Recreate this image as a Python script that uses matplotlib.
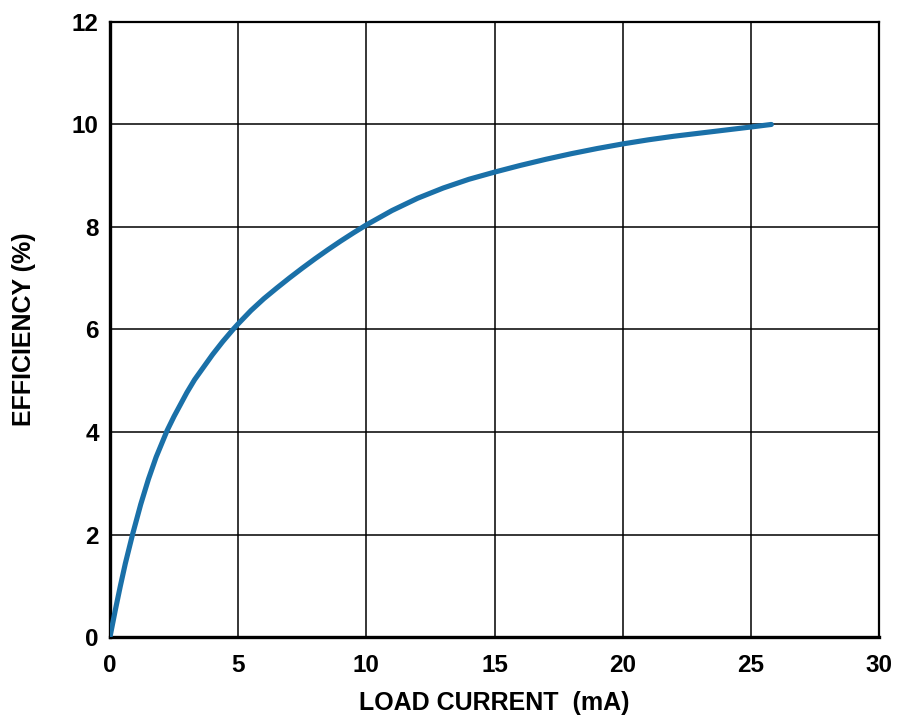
import matplotlib
matplotlib.use('Agg')
import matplotlib.pyplot as plt

# load current (mA) vs efficiency (%)
load_ma = [0.0, 0.2, 0.4, 0.6, 0.88, 1.2, 1.5, 1.8, 2.23, 2.5, 3.0, 3.3, 4.0,
           4.4, 4.8, 5.0, 5.5, 6.0, 6.5, 7.0, 7.5, 8.0, 8.5, 9.0, 9.5, 10.0,
           11.0, 12.0, 13.0, 14.0, 15.0, 16.0, 17.0, 18.0, 19.0, 20.0, 21.0,
           22.0, 23.0, 24.0, 25.0, 25.8]
eff_pct = [0.0, 0.506, 0.985, 1.437, 2.0, 2.59, 3.08, 3.51, 4.03, 4.305, 4.77, 5.02, 5.51,
           5.765, 6.0, 6.11, 6.37, 6.6, 6.806, 7.005, 7.196, 7.38, 7.556, 7.725, 7.886, 8.04,
           8.32, 8.56, 8.76, 8.93, 9.07, 9.2, 9.32, 9.43, 9.53, 9.62, 9.7,
           9.77, 9.83, 9.89, 9.95, 10.0]

xticks = [0, 5, 10, 15, 20, 25, 30]
yticks = [0, 2, 4, 6, 8, 10, 12]

plt.rcParams['font.family'] = ['Liberation Sans', 'DejaVu Sans']
plt.rcParams['font.weight'] = 'bold'

fig = plt.figure(figsize=(9, 7.19), dpi=100)
ax = fig.add_axes([0.1222, 0.114, 0.8545, 0.8555])

ax.plot(load_ma, eff_pct, color='#1a70a8', linewidth=3.7, solid_capstyle='round',
        solid_joinstyle='round', zorder=3)

ax.set_xlim(0, 30)
ax.set_ylim(0, 12)
ax.set_xticks(xticks)
ax.set_yticks(yticks)
ax.grid(True, color='black', linewidth=1.1)
ax.tick_params(length=0, labelsize=17.5)
ax.tick_params(axis='x', pad=12)
ax.tick_params(axis='y', pad=8)
for lab in ax.get_xticklabels() + ax.get_yticklabels():
    lab.set_fontweight('bold')
for s in ax.spines.values():
    s.set_linewidth(1.6)
ax.spines['left'].set_linewidth(2.4)
ax.spines['bottom'].set_linewidth(2.4)

ax.set_xlabel('LOAD CURRENT  (mA)', fontsize=18, fontweight='bold', labelpad=10)
ax.set_ylabel('EFFICIENCY (%)', fontsize=18, fontweight='bold', labelpad=26)

fig.savefig('out.png', dpi=100)
